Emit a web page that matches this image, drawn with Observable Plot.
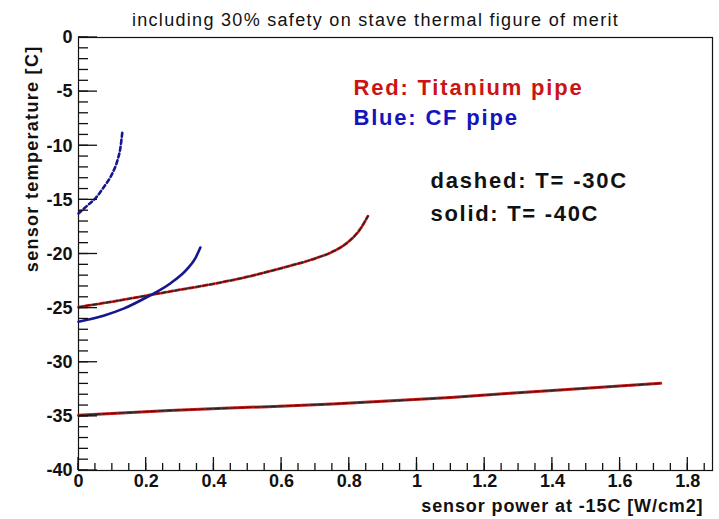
<!DOCTYPE html>
<html>
<head>
<meta charset="utf-8">
<script src="https://cdn.jsdelivr.net/npm/d3@7"></script>
<script src="https://cdn.jsdelivr.net/npm/@observablehq/plot@0.6"></script>
<style>
  html, body { margin: 0; padding: 0; background: #fff; }
  svg { font-family: "Liberation Sans", Arial, sans-serif; }
</style>
</head>
<body>
<div id="chart"></div>
<script>
// Titanium pipe, coolant T = -30C (dashed)
const tiPower30 = [0, 0.1, 0.2, 0.3, 0.4, 0.5, 0.6, 0.7, 0.75, 0.8, 0.83, 0.855];
const tiTemp30  = [-24.9, -24.4, -23.85, -23.3, -22.75, -22.1, -21.3, -20.4, -19.8, -18.8, -17.8, -16.5];
// Titanium pipe, coolant T = -40C (solid)
const tiPower40 = [0, 0.27, 0.56, 0.75, 1.1, 1.4, 1.72];
const tiTemp40  = [-34.9, -34.45, -34.1, -33.85, -33.25, -32.6, -31.95];
// CF pipe, coolant T = -30C (dashed)
const cfPower30 = [0, 0.027, 0.05, 0.074, 0.1, 0.115, 0.124, 0.13];
const cfTemp30  = [-16.25, -15.5, -14.85, -13.85, -12.55, -11.35, -10.15, -8.6];
// CF pipe, coolant T = -40C (solid)
const cfPower40 = [0, 0.074, 0.133, 0.204, 0.272, 0.322, 0.345, 0.36];
const cfTemp40  = [-26.25, -25.7, -25.05, -23.95, -22.7, -21.35, -20.4, -19.4];

const xMajor = [0, 0.2, 0.4, 0.6, 0.8, 1, 1.2, 1.4, 1.6, 1.8];
const xMinor = d3.range(0, 38).map(i => Math.round(i * 5) / 100);
const yMajor = [0, -5, -10, -15, -20, -25, -30, -35, -40];
const yMinor = d3.range(0, 41).map(i => -i);

const titleText = "including 30% safety on stave thermal figure of merit";
const xLabel = "sensor power at -15C [W/cm2]";
const yLabel = "sensor temperature [C]";
const legendRed = "Red: Titanium pipe";
const legendBlue = "Blue: CF pipe";
const legendDashed = "dashed: T= -30C";
const legendSolid = "solid: T= -40C";

const toPts = (xs, ys) => xs.map((x, i) => ({x, y: ys[i]}));
const ti30 = toPts(tiPower30, tiTemp30);
const ti40 = toPts(tiPower40, tiTemp40);
const cf30 = toPts(cfPower30, cfTemp30);
const cf40 = toPts(cfPower40, cfTemp40);

const W = 719, H = 519, ML = 78, MT = 37, MR = 7, MB = 49;
const xDom = [0, 1.873], yDom = [-40, 0];

const RED = "#c41a1a";
const BLUE = "#16168e";
const curve = "monotone-x";

const chart = Plot.plot({
  width: W,
  height: H,
  marginLeft: ML,
  marginTop: MT,
  marginRight: MR,
  marginBottom: MB,
  style: {fontFamily: "'Liberation Sans', Arial, sans-serif", background: "#fff", overflow: "visible"},
  x: {domain: xDom, label: null, axis: null},
  y: {domain: yDom, label: null, axis: null},
  marks: [
    Plot.frame({fill: "none", stroke: "#111", strokeWidth: 1.2}),
    // tick labels
    Plot.axisX(xMajor, {anchor: "bottom", tickSize: 0, tickPadding: 4, tickFormat: d => String(d), label: null,
      fontSize: 18, fontWeight: "bold", fill: "#111"}),
    Plot.axisY(yMajor, {anchor: "left", tickSize: 0, tickPadding: 6, tickFormat: d => String(d), label: null,
      fontSize: 18, fontWeight: "bold", fill: "#111"}),
    // curves
    Plot.line(ti40, {x: "x", y: "y", stroke: RED, strokeWidth: 3, curve}),
    Plot.line(ti40, {x: "x", y: "y", stroke: "#222", strokeWidth: 1.2, strokeDasharray: "6,2", curve}),
    Plot.line(ti30, {x: "x", y: "y", stroke: RED, strokeWidth: 2.8, strokeDasharray: "5,2", curve}),
    Plot.line(ti30, {x: "x", y: "y", stroke: "#222", strokeWidth: 1.2, strokeDasharray: "5,2", curve}),
    Plot.line(cf40, {x: "x", y: "y", stroke: BLUE, strokeWidth: 2.6, curve}),
    Plot.line(cf30, {x: "x", y: "y", stroke: BLUE, strokeWidth: 2.6, strokeDasharray: "4,3", curve}),
    // title & axis labels
    Plot.text([titleText], {frameAnchor: "top", lineAnchor: "middle", dx: -20, dy: -17, fontSize: 18, fill: "#111", text: d => d}),
    Plot.text([xLabel], {frameAnchor: "bottom-right", textAnchor: "end", lineAnchor: "middle", dx: -9, dy: 36, fontSize: 18, fontWeight: "bold", fill: "#111", text: d => d}),
    Plot.text([yLabel], {frameAnchor: "top-left", textAnchor: "end", lineAnchor: "middle", rotate: -90, dx: -46, dy: 8, fontSize: 18, fontWeight: "bold", fill: "#111", text: d => d}),
    // legend text
    Plot.text([legendRed], {frameAnchor: "top-left", textAnchor: "start", lineAnchor: "middle", dx: 275, dy: 50, fontSize: 22, fontWeight: "bold", fill: "#cc1414", text: d => d}),
    Plot.text([legendBlue], {frameAnchor: "top-left", textAnchor: "start", lineAnchor: "middle", dx: 275, dy: 80, fontSize: 22, fontWeight: "bold", fill: "#1414bf", text: d => d}),
    Plot.text([legendDashed], {frameAnchor: "top-left", textAnchor: "start", lineAnchor: "middle", dx: 352, dy: 143, fontSize: 22, fontWeight: "bold", fill: "#111", text: d => d}),
    Plot.text([legendSolid], {frameAnchor: "top-left", textAnchor: "start", lineAnchor: "middle", dx: 352, dy: 176, fontSize: 22, fontWeight: "bold", fill: "#111", text: d => d})
  ]
});

// inward tick marks, positioned with the chart's own x and y scales
const sx = chart.scale("x"), sy = chart.scale("y");
const svg = d3.select(chart);
const tickG = svg.append("g").attr("class", "inward-ticks")
  .attr("stroke", "#111").attr("stroke-width", 1.3).attr("fill", "none");
const yBase = sy.apply(yDom[0]);   // bottom edge of the frame
const xBase = sx.apply(xDom[0]);   // left edge of the frame
const tickSpecs = [
  {ticks: xMinor, len: 7, dir: "x"}, {ticks: xMajor, len: 13, dir: "x"},
  {ticks: yMinor, len: 10, dir: "y"}, {ticks: yMajor, len: 19, dir: "y"}
];
for (const {ticks, len, dir} of tickSpecs) {
  for (const t of ticks) {
    if (dir === "x") {
      const px = sx.apply(t);
      tickG.append("line").attr("x1", px).attr("x2", px).attr("y1", yBase).attr("y2", yBase - len);
    } else {
      const py = sy.apply(t);
      tickG.append("line").attr("x1", xBase).attr("x2", xBase + len).attr("y1", py).attr("y2", py);
    }
  }
}

// letter spacing to mimic the wide ROOT text rendering
const spacing = new Map([
  [titleText, "1.3px"],
  [yLabel, "1.3px"],
  [xLabel, "0.9px"],
  [legendRed, "1.8px"],
  [legendBlue, "1.8px"],
  [legendDashed, "1.8px"],
  [legendSolid, "1.7px"]
]);
svg.selectAll("text").each(function() {
  const s = spacing.get(this.textContent);
  if (s) this.setAttribute("letter-spacing", s);
});
document.getElementById("chart").appendChild(chart);
</script>
</body>
</html>
